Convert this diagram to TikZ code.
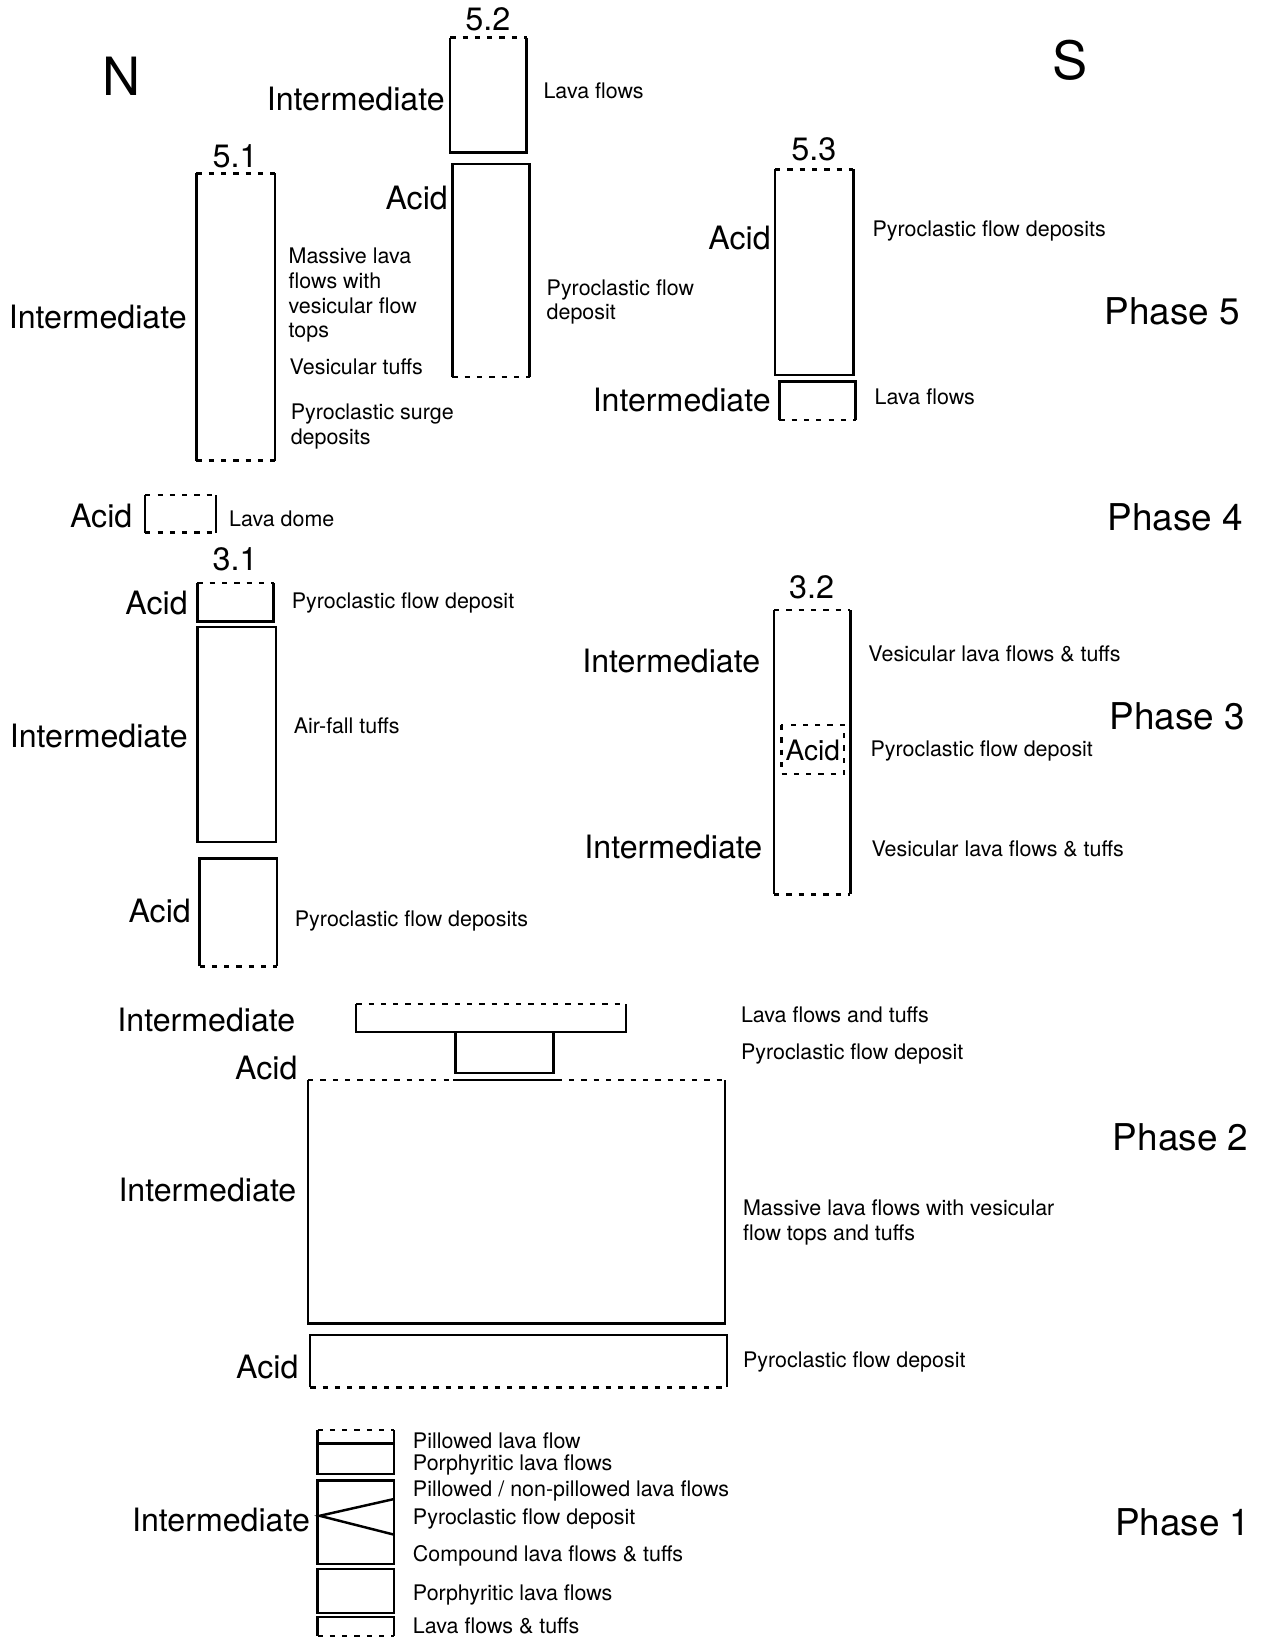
\documentclass[tikz,border=0pt]{standalone}
\usepackage{fontspec}
\setmainfont{TeX Gyre Heros}
\begin{document}
\begin{tikzpicture}[x=0.02089cm, y=-0.02089cm,
    solidline/.style={black, line width=1.4pt},
    dotline/.style={black, line width=1.5pt, dash pattern=on 3pt off 4pt},
    rock/.style={anchor=east, inner sep=0pt, font=\fontsize{18.3}{22}\selectfont},
    note/.style={anchor=west, inner sep=0pt, yshift=-1.2pt, align=left, font=\fontsize{12.2}{14.1}\selectfont},
    phase/.style={anchor=west, inner sep=0pt, font=\fontsize{21}{25}\selectfont},
    secno/.style={inner sep=0pt, font=\fontsize{18.4}{22}\selectfont}]
  \useasboundingbox (0,0) rectangle (1210,1568);

  \node[inner sep=0pt, font=\fontsize{30}{36}\selectfont] (north) at (116,73) {N};
  \node[inner sep=0pt, font=\fontsize{30}{36}\selectfont] (south) at (1024,58) {S};

  % Phase 5: section 5.2
  \draw[solidline] (431,36) |- (504,146) -- (504,36);
  \draw[dotline] (431,36) -- (504,36);
  \draw[solidline] (433,361) |- (507,157) -- (507,361);
  \draw[dotline] (433,361) -- (507,361);
  \node[secno] (s52) at (467,18) {5.2};
  \node[rock] (s52int) at (426,95) {Intermediate};
  \node[note] (s52lava) at (520,85) {Lava flows};
  \node[rock] (s52acid) at (429,190) {Acid};
  \node[note] (s52pyro) at (523,287) {Pyroclastic flow\\deposit};

  % Phase 5: section 5.1
  \draw[solidline] (188,166) -- (188,441);
  \draw[solidline] (263,166) -- (263,441);
  \draw[dotline] (188,166) -- (263,166);
  \draw[dotline] (188,441) -- (263,441);
  \node[secno] (s51) at (225,150) {5.1};
  \node[rock] (s51int) at (179,303) {Intermediate};
  \node[note] (s51lava) at (276,280.5) {Massive lava\\flows with\\vesicular flow\\tops};
  \node[note] (s51tuff) at (277,349) {Vesicular tuffs};
  \node[note] (s51surge) at (278,406) {Pyroclastic surge\\deposits};

  % Phase 5: section 5.3
  \draw[solidline] (742,162) |- (817,359) -- (817,162);
  \draw[dotline] (742,162) -- (817,162);
  \draw[solidline] (746,402) |- (819,365) -- (819,402);
  \draw[dotline] (746,402) -- (819,402);
  \node[secno] (s53) at (779,143) {5.3};
  \node[rock] (s53acid) at (738,228) {Acid};
  \node[note] (s53pyro) at (835,219) {Pyroclastic flow deposits};
  \node[rock] (s53int) at (738,383) {Intermediate};
  \node[note] (s53lava) at (837,378) {Lava flows};
  \node[phase] (ph5) at (1057,298) {Phase 5};

  % Phase 4
  \draw[solidline] (139,474) -- (139,510);
  \draw[solidline] (207,474) -- (207,510);
  \draw[dotline] (139,474) -- (207,474);
  \draw[dotline] (139,510) -- (207,510);
  \node[rock] (p4acid) at (127,494) {Acid};
  \node[note] (p4dome) at (219,495) {Lava dome};
  \node[phase] (ph4) at (1060,495) {Phase 4};

  % Phase 3: section 3.1
  \draw[solidline] (189,558) |- (262,595) -- (262,558);
  \draw[dotline] (189,558) -- (262,558);
  \draw[solidline] (189,600) rectangle (264,806);
  \draw[solidline] (191,925) |- (265,822) -- (265,925);
  \draw[dotline] (191,925) -- (265,925);
  \node[secno] (s31) at (225,535) {3.1};
  \node[rock] (s31acid) at (180,577) {Acid};
  \node[note] (s31pyro) at (279,575) {Pyroclastic flow deposit};
  \node[rock] (s31int) at (180,705) {Intermediate};
  \node[note] (s31air) at (281,693) {Air-fall tuffs};
  \node[rock] (s31acidb) at (183,872) {Acid};
  \node[note] (s31pyrob) at (282,880) {Pyroclastic flow deposits};

  % Phase 3: section 3.2
  \draw[solidline] (741,584) -- (741,856);
  \draw[solidline] (814,584) -- (814,856);
  \draw[dotline] (741,584) -- (814,584);
  \draw[dotline] (741,856) -- (814,856);
  \draw[dotline] (748,694) rectangle (808,741);
  \node[inner sep=0pt, font=\fontsize{16}{19}\selectfont] (s32acid) at (778,718) {Acid};
  \node[secno] (s32) at (777,562) {3.2};
  \node[rock] (s32int) at (728,633) {Intermediate};
  \node[note] (s32ves) at (831,624) {Vesicular lava flows \& tuffs};
  \node[note] (s32pyro) at (833,717) {Pyroclastic flow deposit};
  \node[rock] (s32intb) at (730,811) {Intermediate};
  \node[note] (s32vesb) at (834,811) {Vesicular lava flows \& tuffs};
  \node[phase] (ph3) at (1062,686) {Phase 3};

  % Phase 2
  \draw[solidline] (341,961) |- (599,988) -- (599,961);
  \draw[dotline] (341,961) -- (599,961);
  \draw[solidline] (436,988) |- (530,1027) -- (530,988);
  \draw[solidline] (434,1034) -- (533,1034);
  \draw[dotline] (295,1034) -- (434,1034);
  \draw[dotline] (533,1034) -- (694,1034);
  \draw[solidline] (295,1034) |- (694,1267) -- (694,1034);
  \draw[solidline] (297,1328) |- (696,1278) -- (696,1328);
  \draw[dotline] (297,1328) -- (696,1328);
  \node[rock] (p2int) at (283,976) {Intermediate};
  \node[note] (p2lava) at (709,969) {Lava flows and tuffs};
  \node[rock] (p2acid) at (285,1022) {Acid};
  \node[note] (p2pyro) at (709,1007) {Pyroclastic flow deposit};
  \node[rock] (p2intb) at (284,1139) {Intermediate};
  \node[note] (p2mass) at (711,1168) {Massive lava flows with vesicular\\flow tops and tuffs};
  \node[rock] (p2acidb) at (286,1309) {Acid};
  \node[note] (p2pyrob) at (711,1302) {Pyroclastic flow deposit};
  \node[phase] (ph2) at (1065,1089) {Phase 2};

  % Phase 1
  \draw[solidline] (304,1369) |- (377,1382) -- (377,1369);
  \draw[dotline] (304,1369) -- (377,1369);
  \draw[solidline] (304,1382) rectangle (377,1411);
  \draw[solidline] (304,1417) rectangle (377,1497);
  \draw[solidline] (377,1435) -- (306,1451) -- (377,1469);
  \draw[solidline] (304,1502) rectangle (377,1544);
  \draw[solidline] (304,1566) |- (377,1548) -- (377,1566);
  \draw[dotline] (304,1566) -- (377,1566);
  \node[rock] (p1int) at (297,1455) {Intermediate};
  \node[note] (p1pil) at (395,1377) {Pillowed lava flow};
  \node[note] (p1por) at (395,1400) {Porphyritic lava flows};
  \node[note] (p1non) at (395,1425) {Pillowed / non-pillowed lava flows};
  \node[note] (p1pyro) at (395,1452) {Pyroclastic flow deposit};
  \node[note] (p1comp) at (395,1487) {Compound lava flows \& tuffs};
  \node[note] (p1porb) at (395,1525) {Porphyritic lava flows};
  \node[note] (p1lava) at (395,1554) {Lava flows \& tuffs};
  \node[phase] (ph1) at (1067,1457) {Phase 1};
\end{tikzpicture}
\end{document}
